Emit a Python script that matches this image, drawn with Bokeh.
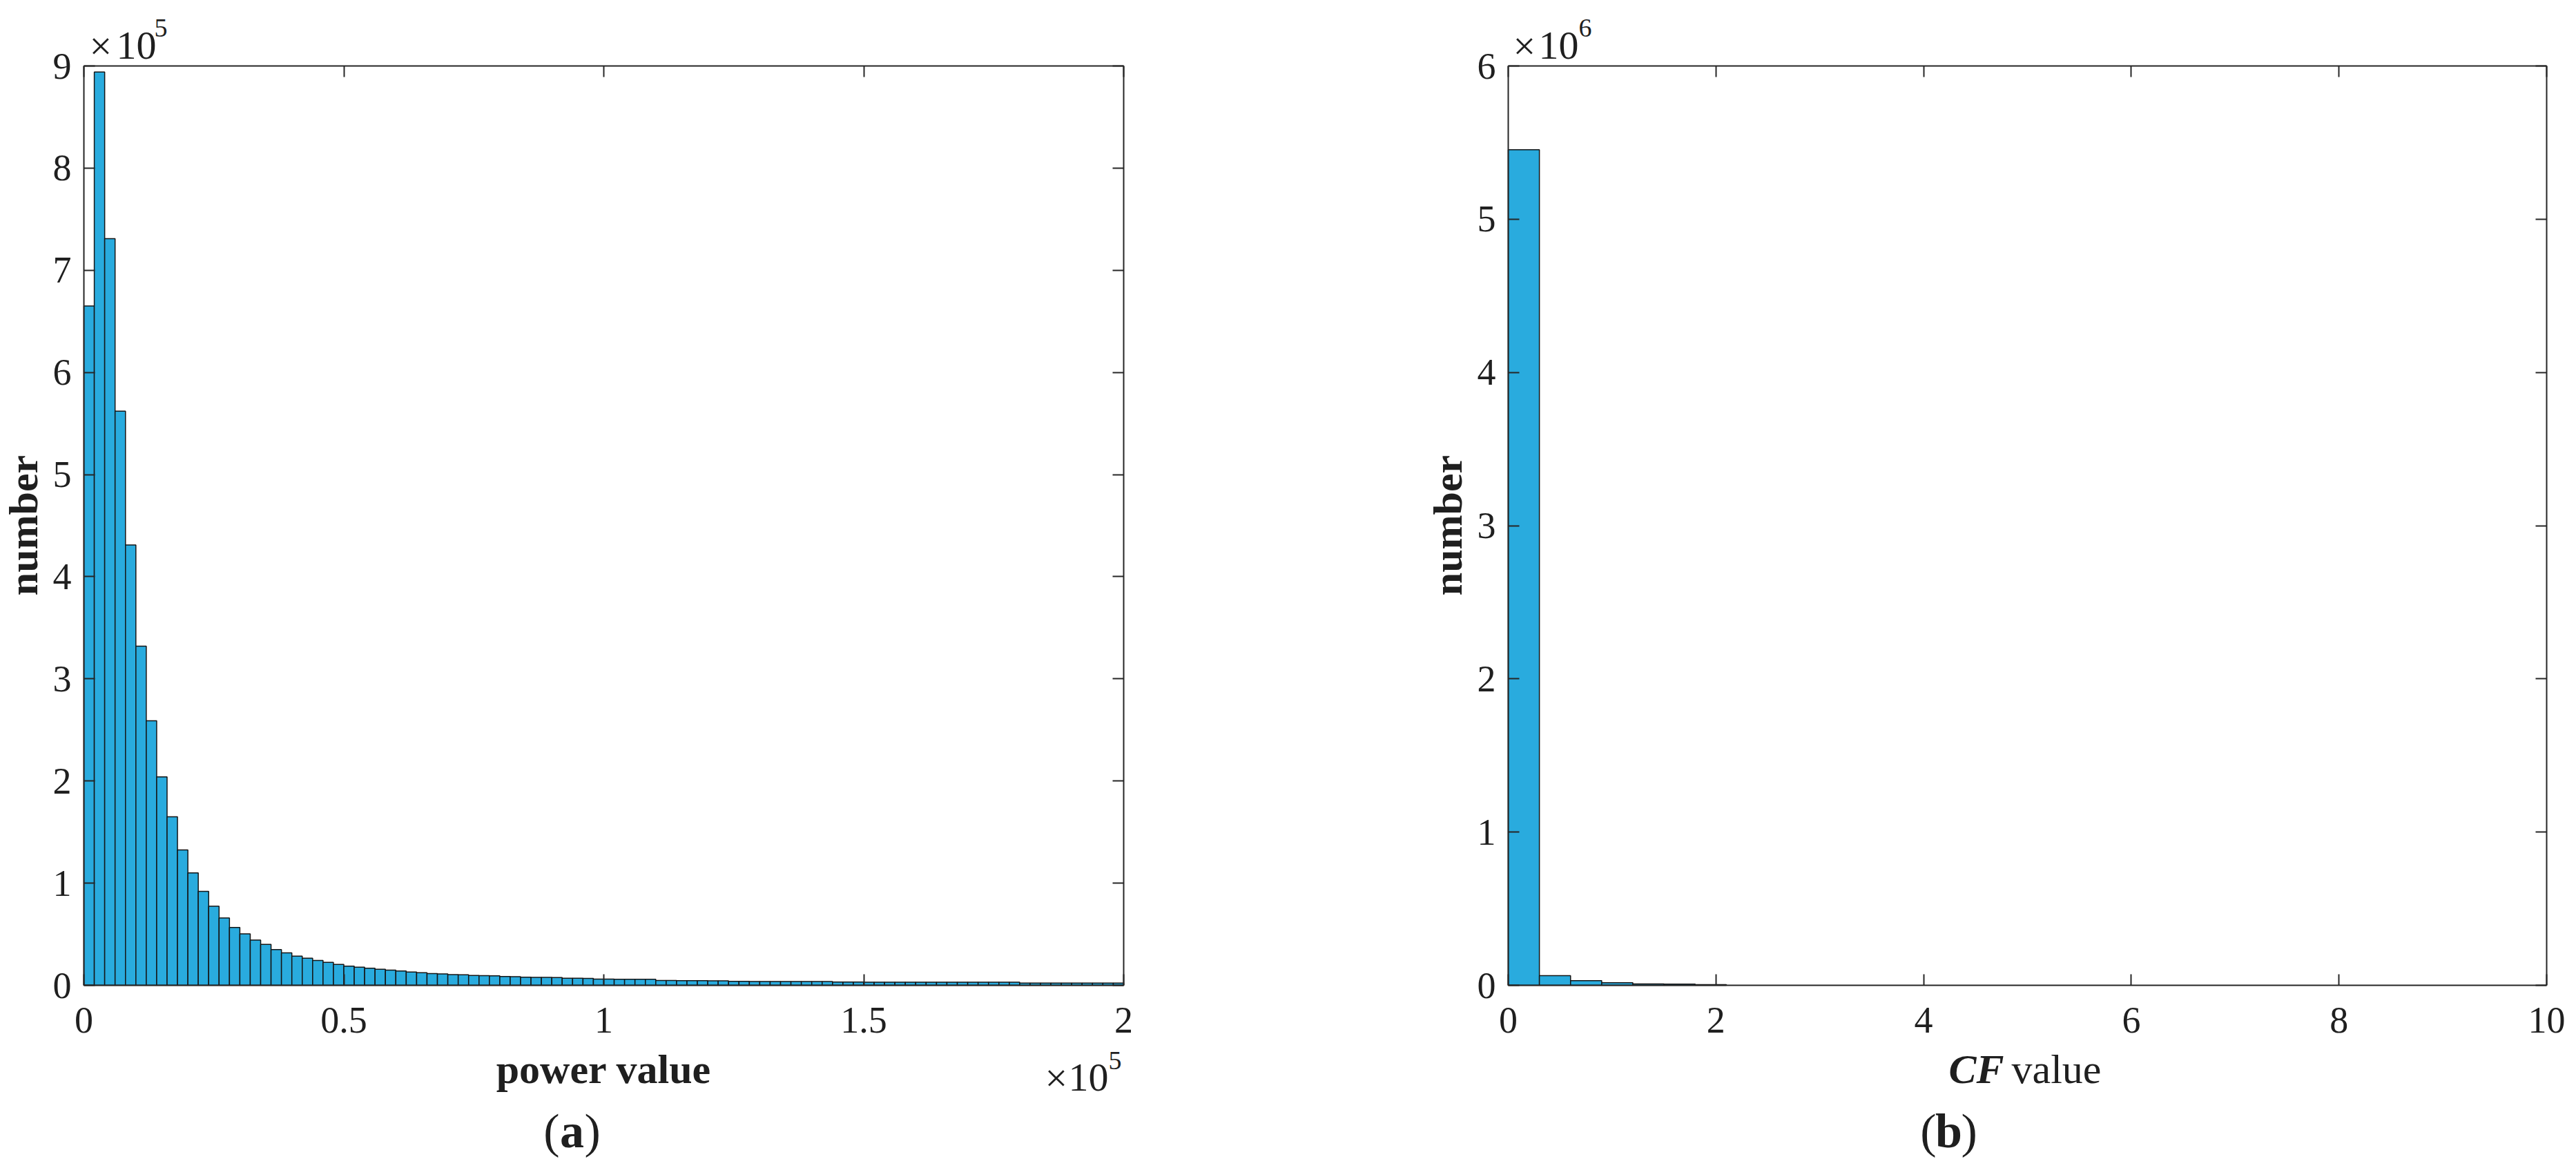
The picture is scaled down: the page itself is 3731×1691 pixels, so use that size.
import math
from bokeh.plotting import figure
from bokeh.models import Range1d, FixedTicker, LinearAxis, Label, CustomJSTickFormatter
from bokeh.layouts import row
from bokeh.embed import file_html
from bokeh.resources import INLINE

# ---------------- data: panel (a) power value histogram ----------------
power_bin_width = 2000
power_counts = [
    665000, 894000, 731000, 562000, 431000, 332000, 259000, 204000, 165000, 132500,
    110000, 92000, 77500, 66000, 56700, 50300, 44300, 40000, 35000, 31800,
    28500, 26500, 24300, 22500, 20500, 18700, 17700, 16700, 15800, 14800,
    14000, 13100, 12300, 11500, 11200, 10500, 10300, 9700, 9500, 9300,
    8700, 8500, 8000, 7800, 7700, 7600, 7000, 6900, 6800, 6100,
    6050, 6000, 5950, 5900, 5850, 4700, 4650, 4600, 4550, 4500,
    4450, 4400, 3850, 3820, 3800, 3780, 3760, 3740, 3720, 3700,
    3680, 3660, 3150, 3140, 3130, 3120, 3110, 3100, 3090, 3080,
    3070, 3060, 3050, 3040, 3030, 3020, 3010, 3000, 2990, 2980,
    2250, 2240, 2230, 2220, 2210, 2200, 2190, 2180, 2170, 2160,
]
power_xlim = (0, 200000)
power_ylim = (0, 900000)
power_xticks = [0, 50000, 100000, 150000, 200000]
power_xtick_labels = ["0", "0.5", "1", "1.5", "2"]
power_yticks = [0, 100000, 200000, 300000, 400000, 500000, 600000, 700000, 800000, 900000]
power_ytick_labels = ["0", "1", "2", "3", "4", "5", "6", "7", "8", "9"]

# ---------------- data: panel (b) CF value histogram ----------------
cf_bin_width = 0.3
cf_counts = [5453000, 63000, 30000, 16500, 9000, 8000, 4000]
cf_xlim = (0, 10)
cf_ylim = (0, 6000000)
cf_xticks = [0, 2, 4, 6, 8, 10]
cf_xtick_labels = ["0", "2", "4", "6", "8", "10"]
cf_yticks = [0, 1000000, 2000000, 3000000, 4000000, 5000000, 6000000]
cf_ytick_labels = ["0", "1", "2", "3", "4", "5", "6"]

FONT = "Liberation Serif"
TEXT = "#1f1f1f"
AXIS = "#262626"
BAR = "#29abde"
TICK_PX = "54px"

# page geometry (pixels)
H = 1685
BOX_TOP, BOX_BOTTOM = 95, 1426
A_LEFT, A_W = 0, 1905
A_BOX = (121, 1627)
B_LEFT, B_W = 1905, 1820
B_BOX = (2184, 3688)


def style_axis(ax, ticks, labels, loc, bounds, standoff=18):
    ax.ticker = FixedTicker(ticks=ticks)
    ax.fixed_location = loc
    ax.bounds = bounds
    ax.axis_line_color = AXIS
    ax.axis_line_width = 2
    ax.major_tick_line_color = AXIS
    ax.major_tick_line_width = 2
    ax.major_tick_in = 16
    ax.major_tick_out = 0
    ax.minor_tick_line_color = None
    if labels is None:
        ax.formatter = CustomJSTickFormatter(code="return ''")
        ax.major_label_standoff = 0
        ax.major_label_text_font_size = "1px"
    else:
        ax.major_label_overrides = {t: l for t, l in zip(ticks, labels)}
        ax.major_label_text_font = FONT
        ax.major_label_text_font_size = TICK_PX
        ax.major_label_text_color = TEXT
        ax.major_label_standoff = standoff


def make_panel(counts, bw, xlim, ylim, xticks, xlabels, yticks, ylabels, fig_left, fig_w, box):
    bl, br = box
    kx = (xlim[1] - xlim[0]) / (br - bl)
    ky = (ylim[1] - ylim[0]) / (BOX_BOTTOM - BOX_TOP)
    xr = Range1d(xlim[0] - (bl - fig_left) * kx, xlim[1] + (fig_left + fig_w - br) * kx)
    yr = Range1d(ylim[0] - (H - BOX_BOTTOM) * ky, ylim[1] + BOX_TOP * ky)
    p = figure(frame_width=fig_w, frame_height=H, min_border=0,
               min_border_left=0, min_border_right=0, min_border_top=0, min_border_bottom=0,
               x_range=xr, y_range=yr, output_backend="svg", toolbar_location=None,
               background_fill_color="white", border_fill_color="white")
    p.xgrid.visible = False
    p.ygrid.visible = False
    p.outline_line_color = None
    lefts = [xlim[0] + i * bw for i in range(len(counts))]
    rights = [xlim[0] + (i + 1) * bw for i in range(len(counts))]
    p.quad(left=lefts, right=rights, bottom=0, top=counts, fill_color=BAR,
           line_color="#151515", line_width=1.5)
    style_axis(p.xaxis[0], xticks, xlabels, ylim[0], xlim, standoff=32)
    style_axis(p.yaxis[0], yticks, ylabels, xlim[0], ylim, standoff=18)
    top_ax = LinearAxis()
    p.add_layout(top_ax, "above")
    style_axis(top_ax, xticks, None, ylim[1], xlim)
    right_ax = LinearAxis()
    p.add_layout(right_ax, "right")
    style_axis(right_ax, yticks, None, xlim[1], ylim)
    return p


def add_text(p, fig_left, X, Y, text, size, style="normal", align="left",
             baseline="alphabetic", angle=0.0):
    # Y is the wanted glyph baseline on the page; Bokeh anchors the label box
    # slightly differently, so lift it by a size-dependent amount.
    lift = 0.3 * size if baseline == "alphabetic" else 0.0
    p.add_layout(Label(x=X - fig_left, y=H - Y + lift, x_units="screen", y_units="screen",
                       text=text, text_font=FONT, text_font_size=f"{size}px",
                       text_font_style=style, text_align=align, text_baseline=baseline,
                       angle=angle, text_color=TEXT))


pa = make_panel(power_counts, power_bin_width, power_xlim, power_ylim,
                power_xticks, power_xtick_labels, power_yticks, power_ytick_labels,
                A_LEFT, A_W, A_BOX)
pb = make_panel(cf_counts, cf_bin_width, cf_xlim, cf_ylim,
                cf_xticks, cf_xtick_labels, cf_yticks, cf_ytick_labels,
                B_LEFT, B_W, B_BOX)

# panel (a) texts (page coordinates)
add_text(pa, A_LEFT, 33, 760, "number", 60, "bold", "center", "middle", math.pi / 2)
add_text(pa, A_LEFT, 874, 1565, "power value", 60, "bold", "center")
add_text(pa, A_LEFT, 129, 83, "\u00d7", 58)
add_text(pa, A_LEFT, 168, 83, "10", 58)
add_text(pa, A_LEFT, 223, 51, "5", 38)
add_text(pa, A_LEFT, 1513, 1577, "\u00d7", 58)
add_text(pa, A_LEFT, 1547, 1577, "10", 58)
add_text(pa, A_LEFT, 1605, 1546, "5", 38)
add_text(pa, A_LEFT, 828 - 18, 1658, "(", 70, "normal", "right")
add_text(pa, A_LEFT, 828, 1658, "a", 70, "bold", "center")
add_text(pa, A_LEFT, 828 + 18, 1658, ")", 70, "normal", "left")

# panel (b) texts (page coordinates)
add_text(pb, B_LEFT, 2096, 760, "number", 60, "bold", "center", "middle", math.pi / 2)
add_text(pb, B_LEFT, 2822, 1565, "CF", 60, "bold italic", "left")
add_text(pb, B_LEFT, 2913, 1565, "value", 60, "normal", "left")
add_text(pb, B_LEFT, 2191, 83, "\u00d7", 58)
add_text(pb, B_LEFT, 2228, 83, "10", 58)
add_text(pb, B_LEFT, 2286, 51, "6", 38)
add_text(pb, B_LEFT, 2822 - 18, 1658, "(", 70, "normal", "right")
add_text(pb, B_LEFT, 2822, 1658, "b", 70, "bold", "center")
add_text(pb, B_LEFT, 2822 + 18, 1658, ")", 70, "normal", "left")

layout = row(pa, pb)
open("out.html", "w").write(file_html(layout, INLINE))
